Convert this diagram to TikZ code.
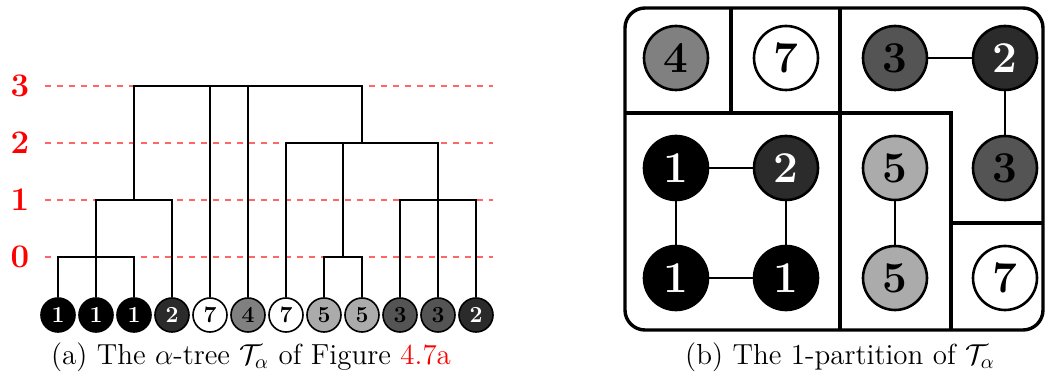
\documentclass[tikz,border=0pt]{standalone}
\usepackage{amsmath}
\usepackage{amssymb}
\usepackage{xcolor}
\usepackage{tikz}

\begin{document}
\begin{tikzpicture}[x=0.5pt, y=-0.5pt,
        leaf/.style={circle, draw, line width=0.8pt, minimum size=17pt, inner sep=0pt,
            font=\fontsize{11.5}{13}\selectfont\bfseries},
        part/.style={circle, draw, line width=1.3pt, minimum size=32pt, inner sep=0pt,
            font=\fontsize{22}{26}\selectfont\bfseries},
        col1/.style={fill=black, text=white},
        col2/.style={fill=black!83, text=white},
        col3/.style={fill=black!67, text=black},
        col4/.style={fill=black!50, text=black},
        col5/.style={fill=black!33, text=black},
        col7/.style={fill=white, text=black},
        branch/.style={line width=1pt},
        levline/.style={red!60, dashed, line width=0.6pt},
        levlabel/.style={red, font=\fontsize{16.5}{19}\selectfont\bfseries},
        wall/.style={line width=1.7pt},
        link/.style={line width=0.6pt},
        caption/.style={font=\fontsize{14.5}{17}\selectfont}]

        \useasboundingbox (0,0) rectangle (1046,385);

        % Levels of the tree
        \foreach \l/\y in {0/257, 1/200, 2/143, 3/86} {
            \node[levlabel] (lev\l) at (20,\y) {\l};
            \coordinate (end\l) at (493,\y);
            \draw[levline, shorten <=4.5pt] (lev\l.east) -- (end\l);
        }

        % Leaves
        \foreach \v [count=\i] in {1,1,1,2,7,4,7,5,5,3,3,2}
            \node[leaf, col\v] (l\i) at (20+38*\i, 315) {\v};

        % Merge points
        \coordinate (p0) at (96,257);
        \coordinate (p1) at (134,200);
        \coordinate (q0) at (343,257);
        \coordinate (r1) at (438,200);
        \coordinate (p2) at (362,143);
        \coordinate (p3) at (248,86);

        % Branches
        \foreach \a/\b in {l1/p0, l2/p0, l3/p0, p0/p1, l4/p1, p1/p3, l5/p3, l6/p3, p2/p3,
                l7/p2, q0/p2, r1/p2, l8/q0, l9/q0, l10/r1, l11/r1, l12/r1}
            \draw[branch] (\a) |- (\b);

        % Frame of the partition
        \draw[wall, rounded corners=10pt] (625,8) rectangle (1043,330);
        \draw[wall] (625,113) -- (951,113) -- (951,330);
        \draw[wall] (731,8) -- (731,113);
        \draw[wall] (840,8) -- (840,330);
        \draw[wall] (951,223) -- (1043,223);

        % Pixels of the partition
        \node[part, col4] (b4) at (676,58) {4};
        \node[part, col7] (b7a) at (786,58) {7};
        \node[part, col3] (b3a) at (895,58) {3};
        \node[part, col2] (b2a) at (1005,58) {2};
        \node[part, col1] (b1a) at (676,168) {1};
        \node[part, col2] (b2b) at (786,168) {2};
        \node[part, col5] (b5a) at (895,168) {5};
        \node[part, col3] (b3b) at (1005,168) {3};
        \node[part, col1] (b1b) at (676,278) {1};
        \node[part, col1] (b1c) at (786,278) {1};
        \node[part, col5] (b5b) at (895,278) {5};
        \node[part, col7] (b7b) at (1005,278) {7};

        % Connections between pixels
        \draw[link] (b3a) -- (b2a);
        \draw[link] (b2a) -- (b3b);
        \draw[link] (b1a) -- (b2b);
        \draw[link] (b1a) -- (b1b);
        \draw[link] (b2b) -- (b1c);
        \draw[link] (b1b) -- (b1c);
        \draw[link] (b5a) -- (b5b);

        % Captions
        \node[caption] (capa) at (251,357)
            {(a) The $\alpha$-tree $\mathcal{T}_\alpha$ of Figure \textcolor{red}{4.7a}};
        \node[caption] (capb) at (840,357) {(b) The 1-partition of $\mathcal{T}_\alpha$};
\end{tikzpicture}
\end{document}
